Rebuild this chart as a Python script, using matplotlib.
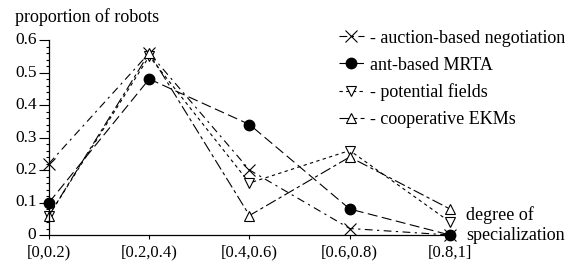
import numpy as np
from matplotlib import pyplot as plt

plt.rcParams['font.family'] = ['Liberation Serif', 'DejaVu Serif']
plt.rcParams['font.size'] = 13

categories = ['[0,0.2)', '[0.2,0.4)', '[0.4,0.6)', '[0.6,0.8)', '[0.8,1]']
auction = [0.22, 0.56, 0.20, 0.02, 0.0]
ant = [0.10, 0.48, 0.34, 0.08, 0.0]
potential = [0.06, 0.55, 0.16, 0.26, 0.04]
cooperative = [0.06, 0.56, 0.06, 0.24, 0.08]

x = np.arange(len(categories))

fig = plt.figure(figsize=(5.73, 2.64), dpi=100)
ax = fig.add_axes([49 / 573, 29 / 264, 401 / 573, 195 / 264])

ax.plot(x, auction, color='black', lw=0.8, dashes=(7, 4, 2, 4),
        marker='x', ms=8, mew=0.8, clip_on=False,
        label='- auction-based negotiation')
ax.plot(x, ant, color='black', lw=0.8, dashes=(9, 4),
        marker='o', ms=7.5, mfc='black', clip_on=False,
        label='ant-based MRTA')
ax.plot(x, potential, color='black', lw=0.8, dashes=(3, 3),
        marker='v', ms=7, mfc='white', mew=0.8, clip_on=False,
        label='- potential fields')
ax.plot(x, cooperative, color='black', lw=0.8, dashes=(10, 3, 3, 3),
        marker='^', ms=7, mfc='white', mew=0.8, clip_on=False,
        label='- cooperative EKMs')

ax.set_xlim(0, 4)
ax.set_ylim(0, 0.6)
ax.set_xticks(x)
ax.set_xticklabels(categories, fontsize=12)
ax.set_yticks(np.arange(0, 0.61, 0.1))
ax.set_yticklabels(['0', '0.1', '0.2', '0.3', '0.4', '0.5', '0.6'],
                   fontsize=12.5, va='center')
ax.set_yticks(np.arange(0, 0.601, 0.02), minor=True)
ax.tick_params(axis='y', which='major', direction='out', length=7, width=0.8, pad=2)
ax.tick_params(axis='y', which='minor', direction='out', length=2.5, width=0.8)
ax.tick_params(axis='x', direction='out', length=3, width=0.8, pad=4)
for s in ['top', 'right']:
    ax.spines[s].set_visible(False)
for s in ['left', 'bottom']:
    ax.spines[s].set_linewidth(0.9)

fig.text(15 / 573, 1 - 17 / 264, 'proportion of robots', va='center', ha='left')
fig.text(466 / 573, 1 - 215 / 264, 'degree of', va='center', ha='left')
fig.text(466 / 573, 1 - 235 / 264, 'specialization', va='center', ha='left')

ax.legend(loc='upper left', bbox_to_anchor=(326 / 573, 1 - 17 / 264),
          bbox_transform=fig.transFigure, frameon=False, handlelength=1.4,
          handletextpad=0.35, labelspacing=0.55, borderpad=0.2)

fig.savefig('out.png', dpi=100)
